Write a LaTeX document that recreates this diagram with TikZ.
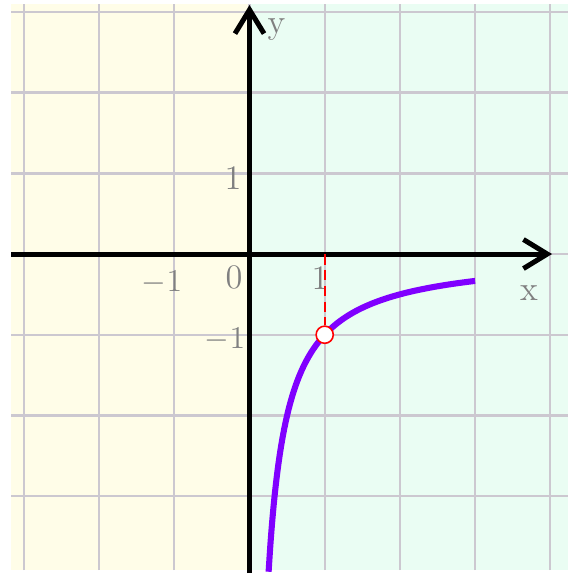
\documentclass[tikz,border=0pt]{standalone}
\usepackage{xcolor}
\usepackage{tikz}
\usetikzlibrary{arrows.meta, positioning, calc}
\definecolor{leftbg}{HTML}{FFFDE8}
\definecolor{rightbg}{HTML}{EAFDF3}
\definecolor{gridgray}{HTML}{CCC8D0}
\definecolor{curvepurple}{HTML}{8000FF}
\definecolor{labelgray}{HTML}{808080}
\tikzset{
  ticklabel/.style={text=labelgray, font=\fontsize{13}{13}\selectfont, inner sep=0pt},
  gridline/.style={gridgray, line width=0.9pt},
  axis/.style={->, line width=1.9pt}
}

\begin{document}
\begin{tikzpicture}[x=1cm, y=1.0731cm, >={Straight Barb[length=9pt, width=11pt]}, thick]
        \useasboundingbox (-3.318,-3.953) rectangle (4.315,3.148);
        % Background halves
        \fill [leftbg] (-3.171,-3.916) rectangle (0,3.098);
        \fill [rightbg] (0,-3.916) rectangle (4.235,3.098);
        % Grid
        \foreach \i in {-3,...,4} \draw [gridline] (\i,-3.916) -- (\i,3.098);
        \foreach \j in {-3,...,3} \draw [gridline] (-3.171,\j) -- (4.235,\j);
        % Axes
        \coordinate (xstart) at (-3.171,0);
        \coordinate (xend) at (4.023,0);
        \coordinate (ystart) at (0,-3.953);
        \coordinate (yend) at (0,3.086);
        \draw [axis] (xstart) -- (xend);
        \draw [axis] (ystart) -- (yend);
        \node [ticklabel] (xlabel) at (3.717,-0.483) {x};
        \node [ticklabel] (ylabel) at (0.36,2.78) {y};
        % Tick labels
        \node [ticklabel] (origin) at (-0.206,-0.285) {0};
        \node [ticklabel] (xone) at (0.9375,-0.297) {1};
        \node [ticklabel] (xminus) at (-1.164,-0.359) {$-1$};
        \node [ticklabel] (yone) at (-0.219,0.942) {1};
        \node [ticklabel] (yminus) at (-0.326,-1.066) {$-1$};
        % Curve y = -1/x
        \draw [curvepurple, line width=2.3pt, domain=0.254:3, samples=120, smooth]
          plot (\x, {-1/\x});
        % Point (1,-1)
        \coordinate (foot) at (1,0);
        \node [circle, draw=red, fill=white, line width=0.6pt, minimum size=6.5pt, inner sep=0pt] (pt) at (1,-1) {};
        \draw [red, dashed, line width=0.6pt, dash pattern=on 4pt off 2pt] (foot) -- (pt);
    \end{tikzpicture}
\end{document}
